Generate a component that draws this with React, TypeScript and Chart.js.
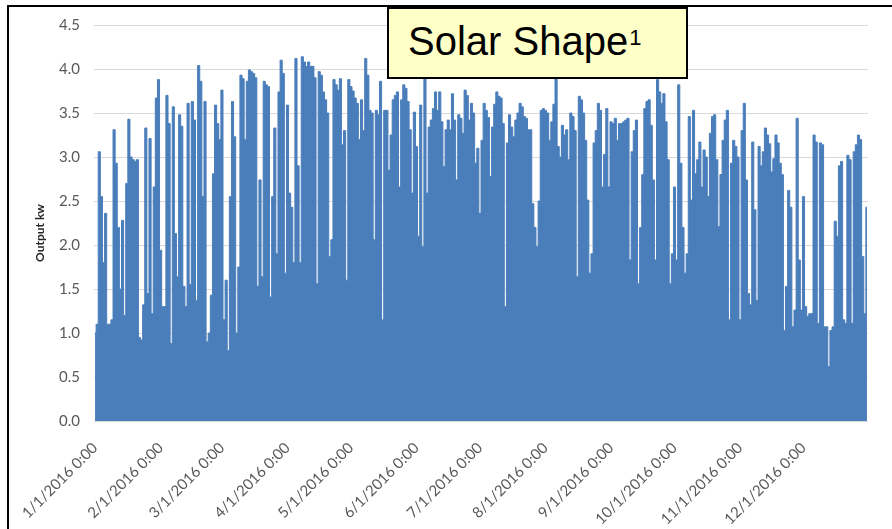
import React, { useEffect, useRef } from 'react';
import { Chart, registerables } from 'chart.js';

Chart.register(...registerables);

// Daily peak output (kW), one value per day of 2016
const JAN = [1.0, 1.1, 3.06, 2.55, 1.8, 2.36, 1.1, 1.1, 1.15, 3.31, 2.93, 2.2, 1.5, 2.28, 1.2, 2.7, 3.43, 3.0, 2.97, 2.95, 2.97, 0.95, 0.92, 1.32, 3.33, 1.45, 3.21, 1.22, 2.66, 3.67, 3.88];
const FEB = [1.94, 1.3, 1.3, 3.7, 3.38, 0.88, 3.57, 2.13, 1.64, 3.48, 3.35, 1.53, 1.3, 3.61, 1.55, 3.63, 3.42, 1.37, 4.04, 3.86, 2.55, 3.63, 0.9, 1.0, 1.43, 2.81, 3.59, 3.38, 3.2];
const MAR = [3.76, 1.15, 1.6, 0.8, 2.55, 3.63, 3.23, 1.0, 1.75, 3.93, 3.89, 3.2, 3.86, 3.99, 3.97, 3.95, 3.9, 1.53, 2.74, 1.64, 3.86, 3.82, 3.8, 1.41, 2.55, 3.33, 1.9, 3.74, 4.1, 3.95, 1.68];
const APR = [3.59, 2.59, 2.43, 1.8, 4.12, 2.9, 1.8, 4.14, 4.08, 4.03, 4.08, 4.03, 4.03, 3.9, 1.56, 3.97, 3.93, 3.74, 3.65, 3.5, 1.87, 2.06, 3.88, 3.82, 3.76, 3.89, 3.14, 3.3, 1.6, 3.88];
const MAY = [3.8, 3.75, 3.67, 3.61, 3.2, 3.65, 3.3, 4.12, 3.93, 3.53, 3.5, 2.06, 3.53, 3.48, 3.86, 1.15, 3.53, 3.53, 2.85, 3.25, 3.65, 3.7, 3.74, 2.66, 3.65, 3.82, 3.78, 3.63, 3.31, 2.59, 3.51];
const JUN = [3.12, 2.1, 3.59, 1.98, 3.89, 2.59, 3.34, 3.42, 3.55, 3.74, 3.53, 3.74, 3.4, 2.89, 3.31, 3.42, 3.31, 3.72, 3.42, 2.74, 3.48, 3.44, 3.27, 3.76, 3.7, 3.42, 3.61, 3.5, 2.93, 3.1];
const JUL = [2.36, 3.19, 3.61, 3.53, 3.45, 2.78, 3.34, 3.6, 3.74, 3.69, 3.67, 3.38, 1.3, 3.16, 3.48, 3.34, 3.23, 3.42, 3.5, 3.61, 3.57, 3.46, 3.44, 3.31, 3.31, 2.47, 2.2, 1.98, 2.5, 3.53, 3.55];
const AUG = [3.53, 3.5, 3.19, 3.4, 3.6, 4.0, 3.12, 3.0, 3.36, 3.25, 3.31, 2.97, 3.5, 3.46, 3.3, 1.64, 3.69, 3.65, 3.5, 3.19, 2.51, 1.68, 1.9, 3.16, 3.3, 3.61, 3.53, 2.66, 3.03, 3.55, 2.66];
const SEP = [3.4, 3.38, 3.44, 3.19, 3.38, 3.38, 3.4, 3.42, 3.44, 1.83, 3.06, 3.3, 3.42, 1.56, 2.2, 2.8, 3.55, 3.63, 3.65, 3.36, 2.74, 1.83, 3.88, 3.74, 3.61, 3.72, 3.4, 2.97, 1.56, 1.9];
const OCT = [2.66, 1.83, 3.82, 2.93, 2.2, 1.68, 1.9, 3.46, 2.51, 3.53, 2.81, 2.97, 3.17, 2.66, 3.08, 3.0, 2.55, 3.27, 3.46, 3.48, 2.97, 2.21, 2.8, 3.19, 3.42, 3.53, 1.15, 2.93, 3.19, 3.12, 3.0];
const NOV = [1.15, 3.3, 3.61, 2.74, 1.45, 1.32, 3.17, 2.4, 1.37, 3.12, 2.9, 3.06, 3.33, 3.25, 3.15, 2.83, 2.98, 3.25, 3.16, 2.93, 2.8, 1.03, 1.53, 2.62, 2.43, 1.07, 1.26, 3.44, 1.83, 1.26];
const DEC = [2.55, 1.3, 1.19, 1.22, 1.22, 3.25, 3.17, 1.11, 3.16, 3.14, 1.07, 1.07, 0.62, 1.03, 1.07, 2.27, 2.1, 2.9, 2.95, 1.15, 1.11, 3.02, 2.97, 1.11, 3.06, 3.14, 3.25, 3.2, 1.87, 1.22, 2.43];

const MONTHS = [JAN, FEB, MAR, APR, MAY, JUN, JUL, AUG, SEP, OCT, NOV, DEC];

const MONTH_TICK_LABELS = [
  '1/1/2016 0:00', '2/1/2016 0:00', '3/1/2016 0:00', '4/1/2016 0:00',
  '5/1/2016 0:00', '6/1/2016 0:00', '7/1/2016 0:00', '8/1/2016 0:00',
  '9/1/2016 0:00', '10/1/2016 0:00', '11/1/2016 0:00', '12/1/2016 0:00',
];

const Y_MIN = 0;
const Y_MAX = 4.5;
const Y_STEP = 0.5;
const Y_TITLE = 'Output kw';
const TITLE = 'Solar Shape';
const TITLE_SUP = '1';

const DAY_LABELS: string[] = [];
const OUTPUT: number[] = [];
MONTHS.forEach((arr, m) => {
  arr.forEach((v, i) => {
    DAY_LABELS.push(`${m + 1}/${i + 1}/2016 0:00`);
    OUTPUT.push(v);
  });
});

const BLUE = '#4A7EBB';

const yTitlePlugin = {
  id: 'yTitle',
  afterDraw(chart: any) {
    const ctx = chart.ctx;
    ctx.save();
    ctx.translate(40, 233);
    ctx.rotate(-Math.PI / 2);
    ctx.font = 'bold 12px Lato';
    ctx.fillStyle = '#262626';
    ctx.textAlign = 'center';
    ctx.textBaseline = 'middle';
    ctx.fillText(Y_TITLE, 0, 0);
    ctx.restore();
  },
};

export default function App() {
  const ref = useRef<HTMLCanvasElement | null>(null);

  useEffect(() => {
    if (!ref.current) return;
    const chart = new Chart(ref.current, {
      type: 'line',
      data: {
        labels: DAY_LABELS,
        datasets: [
          {
            data: OUTPUT,
            stepped: 'middle',
            fill: 'origin',
            backgroundColor: BLUE,
            borderColor: BLUE,
            borderWidth: 1,
            pointRadius: 0,
            tension: 0,
          },
        ],
      },
      options: {
        animation: false,
        responsive: false,
        layout: { padding: { top: 25, right: 24, bottom: 0, left: 0 } },
        plugins: {
          legend: { display: false },
          tooltip: { enabled: false },
          title: { display: false },
        },
        scales: {
          x: {
            offset: true,
            grid: { display: false, drawTicks: false },
            border: { display: false },
            ticks: {
              autoSkip: false,
              maxRotation: 45,
              minRotation: 45,
              padding: 18,
              color: '#595959',
              font: { family: 'Lato', size: 15 },
              callback: (_v: any, idx: number) => {
                const l = DAY_LABELS[idx];
                return MONTH_TICK_LABELS.includes(l) ? l : null;
              },
            },
            afterFit: (s: any) => {
              s.height = 108;
            },
          },
          y: {
            min: Y_MIN,
            max: Y_MAX,
            ticks: {
              stepSize: Y_STEP,
              padding: 14,
              color: '#595959',
              font: { family: 'Lato', size: 15 },
              callback: (v: any) => Number(v).toFixed(1),
            },
            grid: { color: '#d9d9d9', drawTicks: false },
            border: { display: false },
            afterFit: (s: any) => {
              s.width = 94;
            },
          },
        },
      },
      plugins: [yTitlePlugin],
    } as any);
    return () => chart.destroy();
  }, []);

  return (
    <div style={{ position: 'absolute', left: 0, top: 0, width: 892, height: 529, background: '#fff', overflow: 'hidden' }}>
      <canvas ref={ref} width={892} height={529} style={{ position: 'absolute', left: 0, top: 0, width: 892, height: 529 }} />
      <div
        style={{
          position: 'absolute', left: 7, top: 5, width: 885, height: 524,
          borderLeft: '2px solid #000', borderTop: '2px solid #000', boxSizing: 'border-box', pointerEvents: 'none',
        }}
      />
      <div
        style={{
          position: 'absolute', left: 387, top: 7, width: 301, height: 72, boxSizing: 'border-box',
          border: '2px solid #000', background: '#FFFFC8',
        }}
      >
        <span
          style={{
            position: 'absolute', left: 19, top: 12, whiteSpace: 'nowrap',
            fontFamily: '"Liberation Sans", Arial, sans-serif', fontSize: 40, lineHeight: '40px', color: '#000',
          }}
        >
          {TITLE}
          <span style={{ fontSize: 22, position: 'relative', top: -10, marginLeft: 1 }}>{TITLE_SUP}</span>
        </span>
      </div>
    </div>
  );
}
